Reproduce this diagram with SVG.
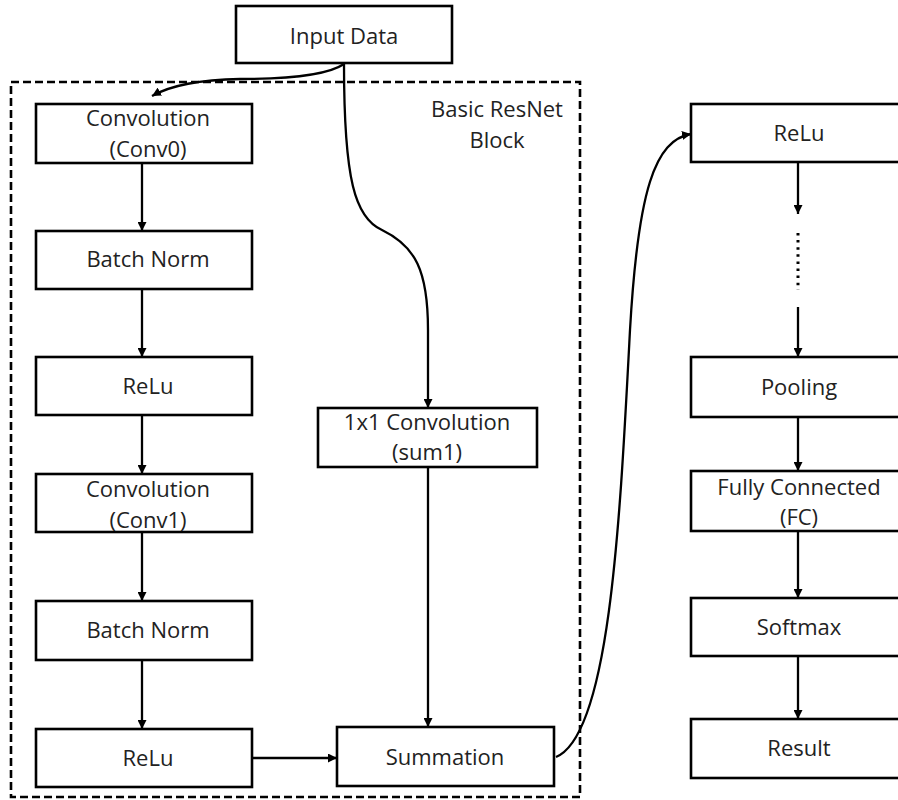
<svg xmlns="http://www.w3.org/2000/svg" width="898" height="800" viewBox="0 0 898 800">
<defs>
<marker id="ah" viewBox="0 0 10 10" refX="10" refY="5" markerWidth="9" markerHeight="9" markerUnits="userSpaceOnUse" orient="auto">
<path d="M0,0 L10,5 L0,10 Z" fill="#000"/>
</marker>
<style>
.box{fill:#fff;stroke:#000;stroke-width:2.6}
.t{font-family:"Open Sans","Noto Sans",sans-serif;font-size:22px;fill:#222;text-anchor:middle}
.c{fill:none;stroke:#000;stroke-width:2.3}
.a{marker-end:url(#ah)}
</style>
</defs>
<rect width="898" height="800" fill="#fff"/>
<g id="resnet-block">
<rect x="11" y="82" width="569" height="715" fill="none" stroke="#000" stroke-width="2.6" stroke-dasharray="8 4"/>
<text class="t" x="497" y="117">Basic ResNet</text>
<text class="t" x="497" y="148">Block</text>
</g>
<g id="connectors">
<path class="c a" d="M344,64 Q322,79 240,79 Q180,80 152,96"/>
<path class="c a" d="M344,64 C344,180 355,218 382,230 C415,246 428,270 428,330 L428,408"/>
<line class="c a" x1="142" y1="163" x2="142" y2="231"/>
<line class="c a" x1="142" y1="289" x2="142" y2="357"/>
<line class="c a" x1="142" y1="415" x2="142" y2="474"/>
<line class="c a" x1="142" y1="532" x2="142" y2="601"/>
<line class="c a" x1="142" y1="660" x2="142" y2="729"/>
<line class="c a" x1="252" y1="758" x2="337" y2="758"/>
<line class="c a" x1="428" y1="467" x2="428" y2="727"/>
<path class="c a" d="M556,757 C610,735 620,520 630,330 C638,190 655,140 691,134"/>
<line class="c a" x1="798" y1="162" x2="798" y2="214"/>
<line x1="798" y1="233" x2="798" y2="290" stroke="#000" stroke-width="3" stroke-dasharray="2.5 4.6"/>
<line class="c a" x1="798" y1="307" x2="798" y2="357"/>
<line class="c a" x1="798" y1="417" x2="798" y2="471"/>
<line class="c a" x1="798" y1="531" x2="798" y2="598"/>
<line class="c a" x1="798" y1="656" x2="798" y2="719"/>
</g>
<g id="input-data">
<rect class="box" x="236" y="6" width="216" height="57"/>
<text class="t" x="344" y="44">Input Data</text>
</g>
<g id="conv0">
<rect class="box" x="36" y="104" width="216" height="59"/>
<text class="t" x="148" y="126">Convolution</text>
<text class="t" x="148" y="157">(Conv0)</text>
</g>
<g id="batchnorm0">
<rect class="box" x="36" y="231" width="216" height="58"/>
<text class="t" x="148" y="267">Batch Norm</text>
</g>
<g id="relu0">
<rect class="box" x="36" y="357" width="216" height="58"/>
<text class="t" x="148" y="394">ReLu</text>
</g>
<g id="conv1">
<rect class="box" x="36" y="474" width="216" height="58"/>
<text class="t" x="148" y="497">Convolution</text>
<text class="t" x="148" y="528">(Conv1)</text>
</g>
<g id="batchnorm1">
<rect class="box" x="36" y="601" width="216" height="59"/>
<text class="t" x="148" y="638">Batch Norm</text>
</g>
<g id="relu1">
<rect class="box" x="36" y="729" width="216" height="58"/>
<text class="t" x="148" y="766">ReLu</text>
</g>
<g id="conv1x1">
<rect class="box" x="318" y="408" width="219" height="59"/>
<text class="t" x="427" y="430">1x1 Convolution</text>
<text class="t" x="427" y="460">(sum1)</text>
</g>
<g id="summation">
<rect class="box" x="337" y="727" width="217" height="59"/>
<text class="t" x="445" y="765">Summation</text>
</g>
<g id="relu2">
<rect class="box" x="691" y="104" width="216" height="58"/>
<text class="t" x="799" y="141">ReLu</text>
</g>
<g id="pooling">
<rect class="box" x="691" y="357" width="216" height="60"/>
<text class="t" x="799" y="395">Pooling</text>
</g>
<g id="fc">
<rect class="box" x="691" y="471" width="216" height="60"/>
<text class="t" x="799" y="495">Fully Connected</text>
<text class="t" x="799" y="525">(FC)</text>
</g>
<g id="softmax">
<rect class="box" x="691" y="598" width="216" height="58"/>
<text class="t" x="799" y="635">Softmax</text>
</g>
<g id="result">
<rect class="box" x="691" y="719" width="216" height="59"/>
<text class="t" x="799" y="756">Result</text>
</g>
</svg>
